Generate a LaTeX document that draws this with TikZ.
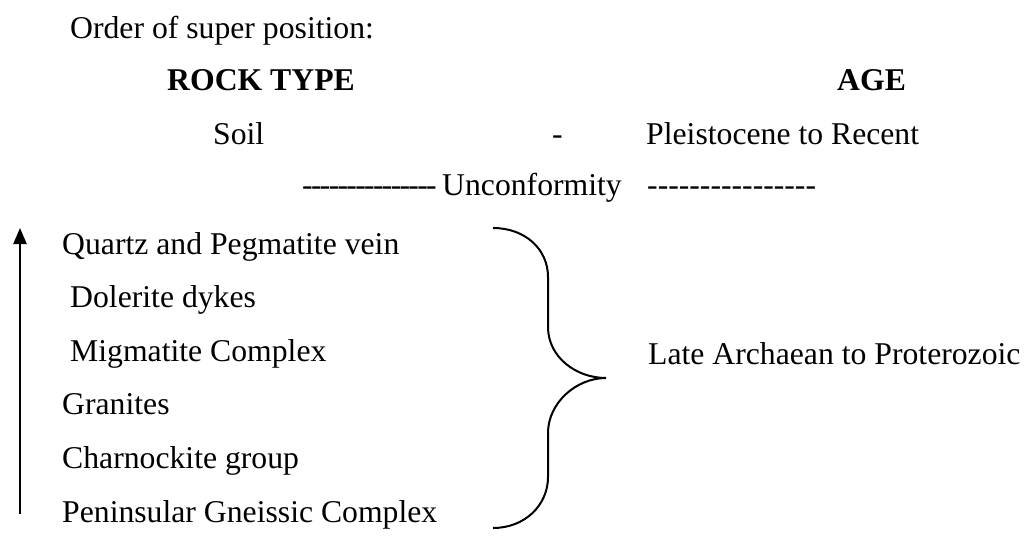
\documentclass[tikz,border=0pt]{standalone}
\usepackage{fontspec}
\setmainfont{Liberation Serif}
\usetikzlibrary{arrows.meta}
% a row of single hyphens, kept apart so they do not join into dashes
\newcommand{\dashrun}[2]{\foreach \i in {1,...,#1}{\mbox{-}\kern#2}}

\begin{document}
\begin{tikzpicture}[x=1pt, y=-1pt, >={Triangle[length=16pt, width=13pt]},
  txt/.style={anchor=base west, inner sep=0pt, font=\fontsize{31.7}{38}\selectfont},
  head/.style={txt, font=\fontsize{31.7}{38}\selectfont\bfseries}]
  \useasboundingbox (0,0) rectangle (1025,536);
  % Heading and column titles
  \node[txt] (order) at (70,38) {Order of super position:};
  \node[head] (rocktype) at (167,90) {ROCK TYPE};
  \node[head] (age) at (837,90) {AGE};
  % Youngest layer
  \node[txt] (soil) at (213,144) {Soil};
  \node[txt] (sep) at (552,144) {-};
  \node[txt] (soilage) at (646,144) {Pleistocene to Recent};
  % Unconformity line
  \node[txt] (dashl) at (302,195) {\dashrun{15}{-1.7pt}};
  \node[txt] (unconf) at (442,195) {Unconformity};
  \node[txt] (dashr) at (647,195) {\dashrun{16}{0pt}};
  % Rock units, oldest at the bottom
  \foreach \name/\x/\y/\txt in {quartz/62/254/Quartz and Pegmatite vein,
      dolerite/70/307.6/Dolerite dykes,
      migmatite/70/361.2/Migmatite Complex,
      granite/62/414.8/Granites,
      charno/62/468.4/Charnockite group,
      gneiss/62/522/Peninsular Gneissic Complex} {
    \node[txt] (\name) at (\x,\y) {\txt};
  }
  % Younging arrow
  \coordinate (arrbot) at (20,514);
  \coordinate (arrtop) at (20,228);
  \draw[->, line width=2.4pt] (arrbot) -- (arrtop);
  % Brace round the basement units
  \coordinate (bracetop) at (493,228);
  \coordinate (bracetip) at (606,378);
  \coordinate (bracebot) at (493,528);
  \draw[line width=2pt] (bracetop) .. controls +(32,0) and +(0,-28) .. (548,277)
    -- (548,327) .. controls +(0,30) and +(-30,0) .. (bracetip)
    .. controls +(-30,0) and +(0,-30) .. (548,433)
    -- (548,477) .. controls +(0,28) and +(32,0) .. (bracebot);
  \node[txt] (lateage) at (648,364) {Late Archaean to Proterozoic};
\end{tikzpicture}
\end{document}
